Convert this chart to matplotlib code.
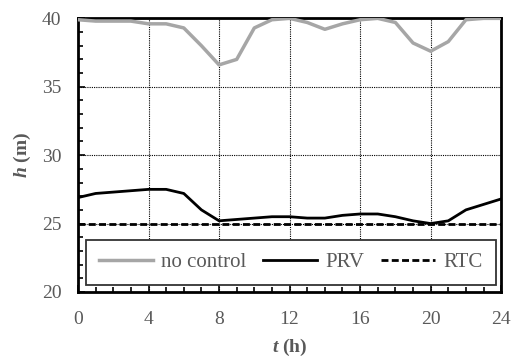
import numpy as np
import matplotlib.pyplot as plt
from matplotlib.ticker import MultipleLocator

plt.rcParams['font.family'] = ['Liberation Serif', 'DejaVu Serif']
plt.rcParams['mathtext.fontset'] = 'custom'
plt.rcParams['mathtext.it'] = 'Liberation Serif:italic:bold'
plt.rcParams['mathtext.bf'] = 'Liberation Serif:bold'

TEXT_GREY = '#595959'

# hourly pressure head at the critical node
hours = np.arange(0, 25)
h_no_control = [39.9, 39.8, 39.8, 39.8, 39.6, 39.6, 39.3, 38.0, 36.6, 37.0,
                39.3, 39.9, 40.0, 39.7, 39.2, 39.6, 39.9, 40.0, 39.7, 38.2,
                37.6, 38.3, 39.9, 40.0, 40.0]
h_prv = [26.9, 27.2, 27.3, 27.4, 27.5, 27.5, 27.2, 26.0, 25.2, 25.3,
         25.4, 25.5, 25.5, 25.4, 25.4, 25.6, 25.7, 25.7, 25.5, 25.2,
         25.0, 25.2, 26.0, 26.4, 26.8]
h_rtc = [25.0] * 25

fig = plt.figure(figsize=(5.13, 3.6), dpi=100)
ax = fig.add_axes([0.152, 0.189, 0.825, 0.76])

ax.plot(hours, h_no_control, color='#a6a6a6', lw=2.5, label='no control',
        solid_joinstyle='round', zorder=3)
ax.plot(hours, h_prv, color='black', lw=2.0, label='PRV', zorder=4)
ax.plot(hours, h_rtc, color='black', lw=2.0, ls=(0, (2.5, 1.2)), label='RTC',
        zorder=4)

ax.set_xlim(0, 24)
ax.set_ylim(20, 40)
ax.xaxis.set_major_locator(MultipleLocator(4))
ax.xaxis.set_minor_locator(MultipleLocator(1))
ax.yaxis.set_major_locator(MultipleLocator(5))
ax.yaxis.set_minor_locator(MultipleLocator(1))
ax.tick_params(which='both', direction='in', width=1.2, colors='black',
               labelcolor=TEXT_GREY, labelsize=14)
ax.tick_params(which='major', length=5)
ax.tick_params(which='minor', length=3.5)
ax.tick_params(axis='y', which='both', left=True, right=False, pad=12)
ax.tick_params(axis='x', which='both', bottom=True, top=False, pad=14)

ax.grid(True, which='major', color='black', ls=(0, (1, 1)), lw=0.8)
for side in ax.spines.values():
    side.set_linewidth(2.0)
    side.set_color('black')

ax.set_xlabel(r'$\mathit{t}$ $\mathbf{(h)}$', fontsize=14, color=TEXT_GREY,
              labelpad=6)
ax.set_ylabel(r'$\mathit{h}$ $\mathbf{(m)}$', fontsize=14, color=TEXT_GREY,
              labelpad=6)

leg = ax.legend(loc='center', bbox_to_anchor=(0.503, 0.108), ncol=3,
                fancybox=False, fontsize=15, handlelength=2.6,
                handletextpad=0.4, columnspacing=0.8, borderpad=0.62,
                borderaxespad=0, framealpha=1)
leg.get_frame().set_edgecolor('#333333')
leg.get_frame().set_linewidth(1.3)
for txt in leg.get_texts():
    txt.set_color(TEXT_GREY)

fig.savefig('out.png', dpi=100)
